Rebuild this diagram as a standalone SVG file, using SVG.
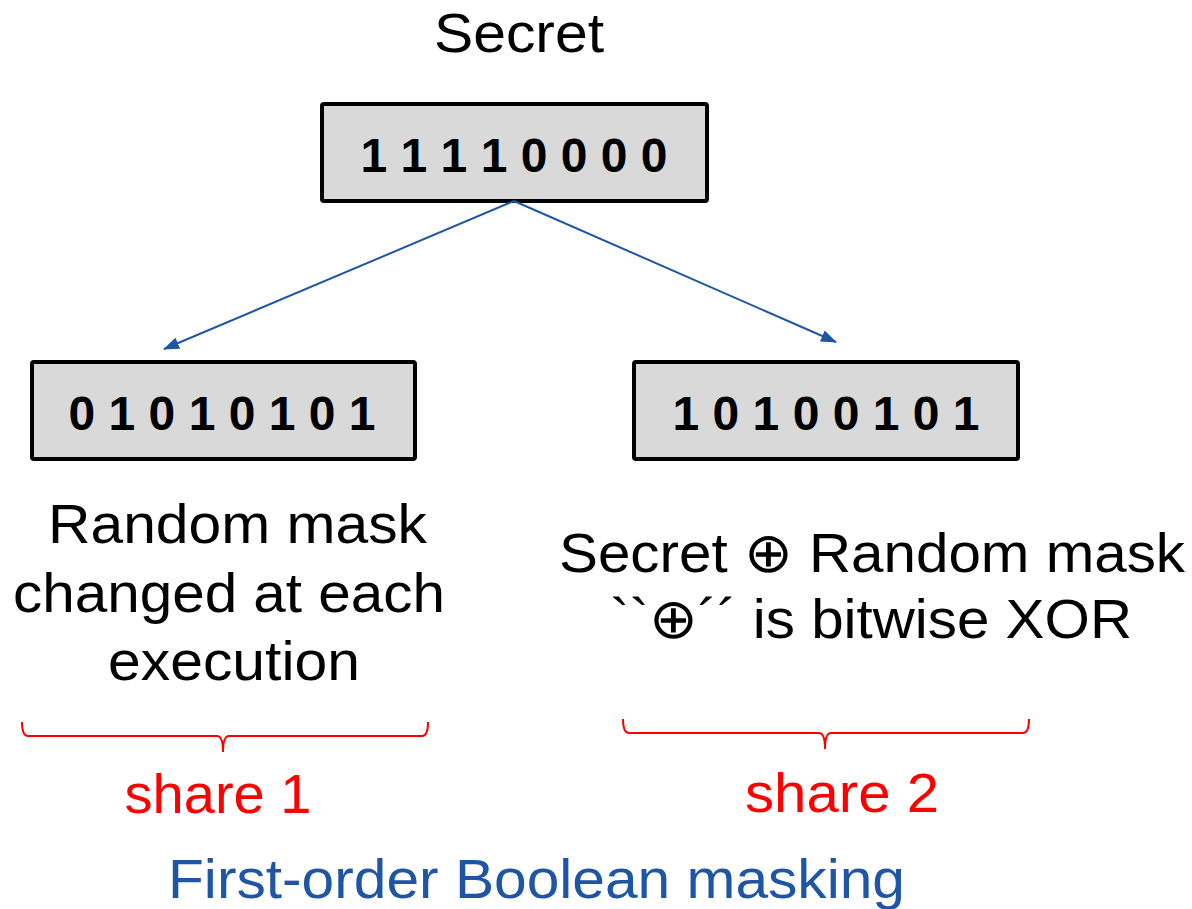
<svg xmlns="http://www.w3.org/2000/svg" width="1192" height="909" viewBox="0 0 1192 909">
<style>
.box{fill:#d9d9d9;stroke:#000;stroke-width:4}
.bits{font-family:"Liberation Sans",Arial,sans-serif;font-weight:bold;font-size:48px;fill:#000;text-anchor:middle}
.lbl{font-family:"Liberation Sans",Arial,sans-serif;font-size:56px;fill:#000;text-anchor:middle}
.red{fill:#ff0000}
.blue{fill:#1f55a5}
.conn{stroke:#1f55a5;stroke-width:2;fill:none}
.brace{stroke:#ff0000;stroke-width:2;fill:none}
</style>
<defs>
<marker id="arr" viewBox="0 0 16 12" refX="15" refY="6" markerWidth="16" markerHeight="12" markerUnits="userSpaceOnUse" orient="auto">
<path d="M0,0 L16,6 L0,12 z" fill="#1f55a5"/>
</marker>
</defs>
<text class="lbl" x="519" y="52" textLength="170" lengthAdjust="spacingAndGlyphs">Secret</text>
<g id="secret">
<rect class="box" x="322" y="104" width="385" height="97" rx="2"/>
<text class="bits" x="514" y="172">1 1 1 1 0 0 0 0</text>
</g>
<g id="share1">
<rect class="box" x="32" y="362" width="383" height="97" rx="2"/>
<text class="bits" x="222" y="430">0 1 0 1 0 1 0 1</text>
</g>
<g id="share2">
<rect class="box" x="634" y="362" width="384" height="97" rx="2"/>
<text class="bits" x="826" y="430">1 0 1 0 0 1 0 1</text>
</g>
<g id="connectors">
<line class="conn" x1="514" y1="201" x2="164" y2="349" marker-end="url(#arr)"/>
<line class="conn" x1="514" y1="201" x2="836" y2="342" marker-end="url(#arr)"/>
</g>
<g id="labels">
<text class="lbl" x="237.5" y="543" textLength="379" lengthAdjust="spacingAndGlyphs">Random mask</text>
<text class="lbl" x="229" y="612" textLength="432" lengthAdjust="spacingAndGlyphs">changed at each</text>
<text class="lbl" x="234" y="680" textLength="252" lengthAdjust="spacingAndGlyphs">execution</text>
<text class="lbl" x="872" y="572" textLength="626" lengthAdjust="spacingAndGlyphs">Secret ⊕ Random mask</text>
<text class="lbl" x="871" y="638" textLength="522" lengthAdjust="spacingAndGlyphs">``⊕´´ is bitwise XOR</text>
</g>
<g id="braces">
<path class="brace" d="M22,722 Q22,736 28,736 L217,736 Q223,736 223,752 Q223,736 229,736 L422,736 Q428,736 428,722"/>
<path class="brace" d="M623,719 Q623,733 629,733 L819,733 Q825,733 825,749 Q825,733 831,733 L1023,733 Q1029,733 1029,719"/>
</g>
<text class="lbl red" x="218" y="813">share 1</text>
<text class="lbl red" x="842" y="812" textLength="194" lengthAdjust="spacingAndGlyphs">share 2</text>
<text class="lbl blue" x="536.5" y="898" textLength="737" lengthAdjust="spacingAndGlyphs">First-order Boolean masking</text>
</svg>
